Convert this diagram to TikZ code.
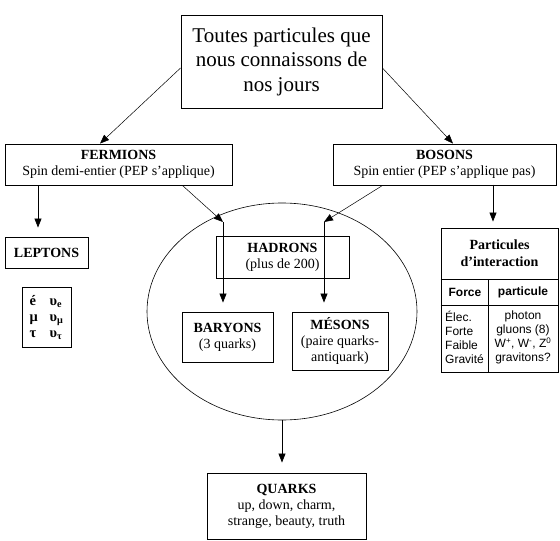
\documentclass[tikz,border=0pt]{standalone}
\usepackage{fontspec}
\setmainfont{Liberation Serif}
\newfontfamily\tablefont{Liberation Sans}
\usepackage{tikz}
\usetikzlibrary{shapes.geometric,arrows.meta,positioning,calc}

\begin{document}
\begin{tikzpicture}[
    x=1pt, y=-1pt,
    box/.style={rectangle, draw, line width=0.9pt, align=center, inner sep=1pt, font=\fontsize{14}{16}\selectfont},
    title/.style={box, font=\fontsize{21}{24.5}\selectfont},
    cell/.style={inner sep=1pt, font=\tablefont\fontsize{12}{14}\selectfont},
    arrow/.style={-{Triangle[width=7pt,length=9pt]}, line width=0.8pt},
    thinarrow/.style={arrow, line width=0.5pt}
]
\useasboundingbox (0,0) rectangle (560,541);

% Top
\node[title, minimum width=201, minimum height=93] (toutes) at (281.5,61.5) {Toutes particules que\\nous connaissons de\\nos jours};

% Families
\node[box, minimum width=227, minimum height=41] (fermions) at (118.5,164.5) {\textbf{FERMIONS}\\Spin demi-entier (PEP s’applique)};
\node[box, minimum width=223, minimum height=41] (bosons) at (444.5,164.5) {\textbf{BOSONS}\\Spin entier (PEP s’applique pas)};

% Leptons
\node[box, minimum width=83, minimum height=31, font=\fontsize{14}{16}\bfseries] (leptons) at (46.5,252.5) {LEPTONS};
\node[box, below=19pt of leptons, minimum width=49, minimum height=60, font=\fontsize{14.5}{16}\bfseries] (leptlist) {%
  \begin{tabular}{@{}l@{\hspace{12pt}}l@{}}
  é & υ\textsubscript{e}\\
  μ & υ\textsubscript{μ}\\
  τ & υ\textsubscript{τ}
  \end{tabular}};

% Hadrons
\node[draw, ellipse, line width=0.6pt, minimum width=270, minimum height=217] (hadzone) at (282,311.5) {};
\node[box, minimum width=133, minimum height=42] (hadrons) at (282.5,257) {\textbf{HADRONS}\\(plus de 200)};
\node[box, minimum width=91, minimum height=50] (baryons) at (227.5,337) {\textbf{BARYONS}\\(3 quarks)};
\node[box, minimum width=96, minimum height=58] (mesons) at (340,341) {\textbf{MÉSONS}\\(paire quarks-\\antiquark)};
\coordinate (bcorner) at (223,222);
\coordinate (mcorner) at (324,222);

% Quarks
\node[box, minimum width=159, minimum height=66] (quarks) at (286.5,506) {\textbf{QUARKS}\\up, down, charm,\\strange, beauty, truth};

% Interaction table
\node[box, minimum width=117, minimum height=51, font=\fontsize{14}{17}\bfseries] (interhead) at (499.5,253.5) {Particules\\d’interaction};
\node[box, anchor=north, minimum width=117, minimum height=93] (intertab) at (interhead.south) {};
\draw[line width=1.3pt] (interhead.south west) -- (interhead.south east);
\draw[line width=0.8pt] (intertab.west |- 0,305) -- (intertab.east |- 0,305);
\draw[line width=0.8pt] (intertab.north -| 488,0) -- (intertab.south -| 488,0);
\node[cell, font=\tablefont\fontsize{12}{14}\bfseries] (force) at (465,292) {Force};
\node[cell, font=\tablefont\fontsize{12}{14}\bfseries] (particule) at (523,292) {particule};
\node[cell, anchor=north west, align=left] (forces) at (444,310) {Élec.\\Forte\\Faible\\Gravité};
\node[cell, anchor=north, align=center] (particles) at (523,310) {photon\\gluons (8)\\W\textsuperscript{+}, W\textsuperscript{-}, Z\textsuperscript{0}\\gravitons?};

% Arrows
\draw[thinarrow] ([yshift=-6.5pt]toutes.west) -- ([xshift=-18.5pt]fermions.north);
\draw[thinarrow] ([yshift=-6.5pt]toutes.east) -- ([xshift=8.5pt]bosons.north);
\draw[arrow, shorten >=9pt] ([xshift=-8.5pt]leptons.north |- fermions.south) -- ([xshift=-8.5pt]leptons.north);
\draw[thinarrow] ([xshift=-50pt]fermions.south east) -- (bcorner);
\draw[arrow, shorten >=9pt] (bcorner) -- (bcorner |- baryons.north);
\draw[thinarrow] ([xshift=50pt]bosons.south west) -- (mcorner);
\draw[arrow, shorten >=9pt] (mcorner) -- (mcorner |- mesons.north);
\draw[arrow, shorten >=6pt] (interhead.north -| 493,0) ++(0,-43) -- (interhead.north -| 493,0);
\draw[arrow, shorten >=10pt] (hadzone.south) -- (hadzone.south |- quarks.north);

\end{tikzpicture}
\end{document}
